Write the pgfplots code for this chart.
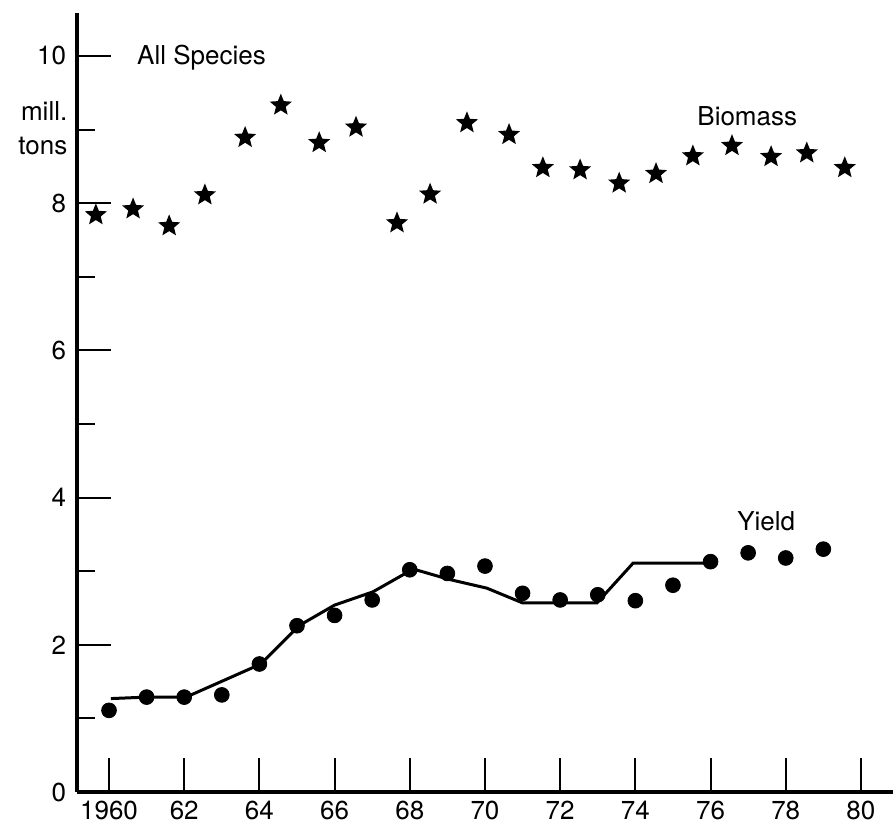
\documentclass[border=0pt]{standalone}
\usepackage{fontspec}
\setmainfont{TeX Gyre Heros}
\usepackage{pgfplots}
\pgfplotsset{compat=1.18}

% filled five-pointed star
\pgfdeclareplotmark{fstar}{%
  \pgfpathmoveto{\pgfpointpolar{90}{\pgfplotmarksize}}%
  \pgfpathlineto{\pgfpointpolar{126}{0.44\pgfplotmarksize}}%
  \pgfpathlineto{\pgfpointpolar{162}{\pgfplotmarksize}}%
  \pgfpathlineto{\pgfpointpolar{198}{0.44\pgfplotmarksize}}%
  \pgfpathlineto{\pgfpointpolar{234}{\pgfplotmarksize}}%
  \pgfpathlineto{\pgfpointpolar{270}{0.44\pgfplotmarksize}}%
  \pgfpathlineto{\pgfpointpolar{306}{\pgfplotmarksize}}%
  \pgfpathlineto{\pgfpointpolar{342}{0.44\pgfplotmarksize}}%
  \pgfpathlineto{\pgfpointpolar{18}{\pgfplotmarksize}}%
  \pgfpathlineto{\pgfpointpolar{54}{0.44\pgfplotmarksize}}%
  \pgfpathclose
  \pgfusepathqfill
}

\newcommand{\lbl}{\fontsize{13}{15}\selectfont}

\begin{document}
\begin{tikzpicture}
\begin{axis}[
    scale only axis,
    width=408pt, height=389.5pt,
    xmin=1959.15, xmax=1980.85,
    ymin=0, ymax=10.58,
    axis x line*=bottom, axis y line*=left,
    axis line style={-, line width=1.6pt},
    scaled x ticks=false,
    xtick={1960,1962,1964,1966,1968,1970,1972,1974,1976,1978,1980},
    xticklabels={1960,62,64,66,68,70,72,74,76,78,80},
    ytick={0,2,4,6,8,10},
    yticklabels={0,2,4,6,8,10},
    minor ytick={1,3,5,7,9},
    tick align=inside,
    major tick length=17pt,
    minor tick length=9pt,
    tick style={line width=1pt, black},
    every tick label/.append style={font=\lbl},
    yticklabel style={xshift=-2pt},
    xticklabel style={yshift=-1pt},
    clip=false,
]
% Biomass (stars)
\addplot[only marks, mark=fstar, mark size=5.8pt, black] coordinates {
    (1959.65, 7.84) (1960.64, 7.92) (1961.60, 7.69) (1962.55, 8.11)
    (1963.62, 8.89) (1964.57, 9.33) (1965.59, 8.82) (1966.57, 9.03)
    (1967.66, 7.73) (1968.54, 8.12) (1969.52, 9.09) (1970.64, 8.93)
    (1971.54, 8.48) (1972.53, 8.45) (1973.57, 8.27) (1974.55, 8.40)
    (1975.53, 8.64) (1976.57, 8.78) (1977.61, 8.63) (1978.56, 8.68)
    (1979.57, 8.48)
};
% Yield (dots)
\addplot[only marks, mark=*, mark size=3.7pt, black] coordinates {
    (1960, 1.11) (1961, 1.29) (1962, 1.29) (1963, 1.32) (1964, 1.74)
    (1965, 2.26) (1966, 2.40) (1967, 2.61) (1968, 3.02) (1969, 2.97)
    (1970, 3.07) (1971, 2.70) (1972, 2.61) (1973, 2.68) (1974, 2.60)
    (1975, 2.81) (1976, 3.13) (1977, 3.25) (1978, 3.18) (1979, 3.30)
};
% Yield trend line
\addplot[black, line width=1.5pt, no markers] coordinates {
    (1960.05, 1.27) (1961, 1.29) (1962.05, 1.29) (1964.04, 1.74)
    (1965.05, 2.26) (1966, 2.54) (1967.02, 2.72) (1968.09, 3.03)
    (1969.04, 2.89) (1970.05, 2.77) (1971, 2.57) (1972.98, 2.57)
    (1973.94, 3.11) (1975.93, 3.11)
};

\node[anchor=base west, inner sep=0, font=\lbl] at (axis cs:1960.74,9.88) {All Species};
\node[anchor=base east, inner sep=0, font=\lbl] at (axis cs:1958.9,9.12) {mill.};
\node[anchor=base east, inner sep=0, font=\lbl] at (axis cs:1958.9,8.66) {tons};
\node[anchor=base west, inner sep=0, font=\lbl] at (axis cs:1975.64,9.06) {Biomass};
\node[anchor=base west, inner sep=0, font=\lbl] at (axis cs:1976.70,3.55) {Yield};

\coordinate (bbsw) at (axis cs:1957.10,-0.462);
\coordinate (bbne) at (axis cs:1980.88,10.76);
\end{axis}
\pgfresetboundingbox
\path[use as bounding box] (bbsw) rectangle (bbne);
\end{tikzpicture}
\end{document}
